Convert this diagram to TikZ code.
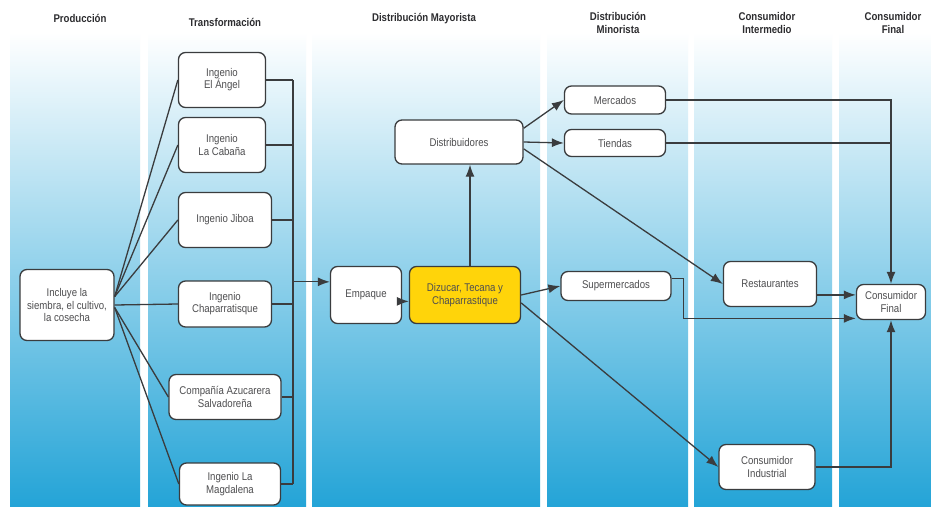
\documentclass[tikz,border=0pt]{standalone}
\usepackage{fontspec}
\setmainfont{Liberation Sans}[FakeStretch=0.86]
\usepackage{tikz}
\usetikzlibrary{arrows.meta,calc}
\definecolor{linegray}{RGB}{58,60,62}
\definecolor{textgray}{RGB}{78,78,80}
\definecolor{hdrgray}{RGB}{45,45,48}
\definecolor{bandmid}{RGB}{118,198,228}
\definecolor{bandbot}{RGB}{36,164,215}
\definecolor{boxyellow}{RGB}{255,212,10}
\tikzset{
  box/.style={draw=linegray, fill=white, line width=1.3pt, rounded corners=7pt, inner sep=0pt,
              font=\fontsize{11.2}{12.2}\selectfont, text=textgray, align=center},
  hdr/.style={font=\fontsize{11.2}{12.2}\selectfont\bfseries, text=hdrgray, align=center},
  band/.style={top color=white, middle color=bandmid, bottom color=bandbot, draw=none},
  conn/.style={draw=linegray, line width=1.3pt},
  arr/.style={conn, -{Latex[length=12pt,width=9pt]}}
}
\begin{document}
\begin{tikzpicture}[x=1pt,y=-1pt]
  \useasboundingbox (0,0) rectangle (931,506);
  \fill[white] (0,0) rectangle (931,506);

  %% Column bands
  \foreach \xa/\xb in {10/140, 148/306, 312/540, 547/688, 694/832, 839/931}{
    \shade[band] (\xa,32) rectangle (\xb,506);
  }

  %% Headers
  \node[hdr] (hprod) at (80,18) {Producción};
  \node[hdr] (htrans) at (225,22) {Transformación};
  \node[hdr] (hmay) at (424,19) {Distribución Mayorista};
  \node[hdr] (hmin) at (618,23) {Distribución\\Minorista};
  \node[hdr] (hint) at (767,23) {Consumidor\\Intermedio};
  \node[hdr] (hfin) at (893,23) {Consumidor\\Final};

  %% Producción
  \node[box, minimum width=94, minimum height=71] (prod) at (67,305) {Incluye la\\siembra, el cultivo,\\la cosecha};

  %% Transformación
  \node[box, minimum width=87, minimum height=55] (angel) at (222,80) {Ingenio\\El Ángel};
  \node[box, minimum width=87, minimum height=55] (cabana) at (222,145) {Ingenio\\La Cabaña};
  \node[box, minimum width=93, minimum height=55] (jiboa) at (225,220) {Ingenio Jiboa};
  \node[box, minimum width=93, minimum height=46] (chapa) at (225,304) {Ingenio\\Chaparratisque};
  \node[box, minimum width=112, minimum height=45] (cas) at (225,397) {Compañía Azucarera\\Salvadoreña};
  \node[box, minimum width=101, minimum height=42] (magda) at (230,484) {Ingenio La\\Magdalena};

  %% Distribución mayorista
  \node[box, minimum width=71, minimum height=57] (empaque) at (366,295) {Empaque};
  \node[box, fill=boxyellow, minimum width=111, minimum height=57] (diz) at (465,295) {Dizucar, Tecana y\\Chaparrastique};
  \node[box, minimum width=128, minimum height=44] (dist) at (459,142) {Distribuidores};

  %% Distribución minorista
  \node[box, minimum width=101, minimum height=28] (merc) at (615,100) {Mercados};
  \node[box, minimum width=101, minimum height=27] (tiendas) at (615,143) {Tiendas};
  \node[box, minimum width=110, minimum height=29] (super) at (616,286) {Supermercados};

  %% Consumidores
  \node[box, minimum width=93, minimum height=45] (rest) at (770,284) {Restaurantes};
  \node[box, minimum width=96, minimum height=45] (ind) at (767,467) {Consumidor\\Industrial};
  \node[box, minimum width=69, minimum height=35] (cf) at (891,302) {Consumidor\\Final};

  %% Producción -> ingenios
  \foreach \n in {angel,cabana,jiboa}{
    \draw[conn] (prod.10) -- (\n.west);
  }
  \draw[conn] (prod.east) -- (chapa.west);
  \foreach \n in {cas,magda}{
    \draw[conn] (prod.-3) -- (\n.west);
  }

  %% Ingenios -> colector -> Empaque
  \coordinate (bus) at (293,0);
  \foreach \n in {angel,cabana,jiboa,chapa,cas,magda}{
    \draw[conn] (\n.east) -- (\n.east -| bus);
  }
  \draw[conn] (angel.east -| bus) -- (magda.east -| bus);
  \draw[arr] (bus |- empaque.160) -- (empaque.160);
  \draw[arr] (empaque.-10) -- (diz.west |- empaque.-10);

  % Dizucar -> Distribuidores
  \coordinate (up) at ($(diz.north)+(5,0)$);
  \draw[arr] (up) -- (up |- dist.south);

  % Distribuidores -> minoristas
  \draw[arr] (dist.12) -- (merc.west);
  \draw[arr] (dist.east) -- (tiendas.west);
  \draw[arr] (dist.-6) -- (rest.west);

  % Dizucar -> Supermercados, Industrial
  \draw[arr] (diz.east) -- (super.west);
  \draw[arr] (diz.-8) -- (ind.west);

  %% Hacia Consumidor Final
  \draw[arr] (merc.east) -| (cf.north);
  \draw[conn] (tiendas.east) -- (tiendas.east -| cf.north);
  \draw[arr] (super.8) -- ++(12,0) |- (cf.205);
  \draw[arr] (rest.-13) -- (cf.west |- rest.-13);
  \draw[arr] (ind.east) -| (cf.south);
\end{tikzpicture}
\end{document}
